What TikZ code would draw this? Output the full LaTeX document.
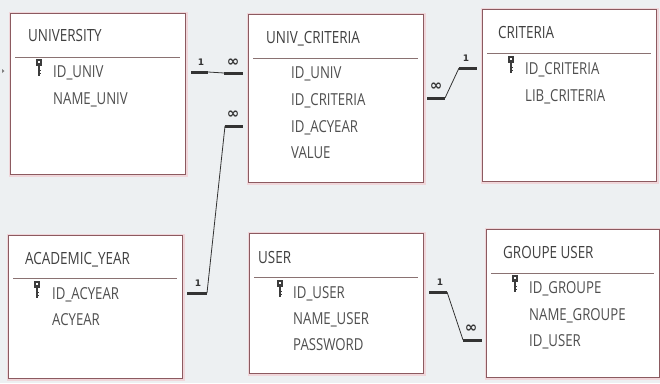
\documentclass[tikz,border=0pt]{standalone}
\usepackage{fontspec}
\setmainfont[FakeStretch=0.8]{Open Sans}
\newfontfamily\relfont{DejaVu Sans}
\usepackage{xcolor}
\usetikzlibrary{positioning,calc}

\definecolor{bgc}{HTML}{EDF0F2}
\definecolor{framec}{HTML}{8C5A60}
\definecolor{haloc}{HTML}{F0D6DA}
\definecolor{linec}{HTML}{8A7272}
\definecolor{textc}{HTML}{404040}
\definecolor{keyc}{HTML}{3C3C3C}
\definecolor{relc}{HTML}{333333}

\tikzset{
  tbl/.style={draw=framec, line width=1.1pt, fill=white, anchor=north west,
    inner sep=0pt, minimum width=175pt, preaction={draw=haloc, line width=4pt}},
  hdr/.style={draw=linec, line width=1pt},
  ttl/.style={anchor=base west, inner sep=0pt, text=textc,
    font=\fontsize{16.8}{18}\selectfont},
  fld/.style={anchor=base west, inner sep=0pt, text=textc!92,
    font=\fontsize{16.5}{17}\selectfont},
  bar/.style={draw=relc, line width=3pt},
  rel/.style={draw=relc, line width=0.8pt},
  one/.style={inner sep=0pt, text=relc, font=\relfont\bfseries\fontsize{9}{9}\selectfont},
  many/.style={inner sep=0pt, text=relc, font=\relfont\bfseries\fontsize{15}{15}\selectfont},
  pkey/.pic={
    \fill[keyc] (-2.6,-18) rectangle (2.6,-11.5);
    \fill[white] (-0.9,-16.3) rectangle (0.9,-14.5);
    \draw[keyc,line width=1.6pt] (0,-11.5) -- (0,-1);
    \draw[keyc,line width=0.9pt] (0,-4) -- (2.2,-4) (0,-7) -- (2.2,-7);
  }
}

\begin{document}
\begin{tikzpicture}[x=1pt,y=-1pt]
\fill[bgc] (0,0) rectangle (660,383);
\useasboundingbox (0,0) rectangle (660,383);
\fill[gray] (2,69) -- (4.5,71) -- (2,73) -- cycle;

% tables
\node[tbl, minimum height=161pt] (univ) at (10,13) {};
\node[tbl, minimum height=168pt] (ucrit) at (248,14) {};
\node[tbl, minimum width=174pt, minimum height=172pt] (crit) at (482,9) {};
\node[tbl, minimum width=174pt, minimum height=143pt] (acyear) at (8,235) {};
\node[tbl, minimum width=174pt, minimum height=140pt] (user) at (249,233) {};
\node[tbl, minimum width=173pt, minimum height=148pt] (groupe) at (486,229) {};

\draw[hdr] (15,57) -- (180,57);
\draw[hdr] (253,58) -- (418,58);
\draw[hdr] (487,53) -- (651,53);
\draw[hdr] (13,278) -- (177,278);
\draw[hdr] (254,277) -- (418,277);
\draw[hdr] (491,273) -- (654,273);

% UNIVERSITY
\node[ttl] (univt) at (28,41) {UNIVERSITY};
\pic at (39,77) {pkey};
\node[fld] (univa) at (53,77) {ID\_UNIV};
\node[fld] (univb) at (53,104) {NAME\_UNIV};

% UNIV_CRITERIA
\node[ttl] (ucritt) at (266,43) {UNIV\_CRITERIA};
\node[fld] (ucrita) at (291,78) {ID\_UNIV};
\node[fld] (ucritb) at (291,105) {ID\_CRITERIA};
\node[fld] (ucritc) at (291,132) {ID\_ACYEAR};
\node[fld] (ucritd) at (291,158) {VALUE};

% CRITERIA
\node[ttl] (critt) at (498,38) {CRITERIA};
\pic at (511,74) {pkey};
\node[fld] (crita) at (525,74) {ID\_CRITERIA};
\node[fld] (critb) at (525,101) {LIB\_CRITERIA};

% ACADEMIC_YEAR
\node[ttl] (acyeart) at (25,264) {ACADEMIC\_YEAR};
\pic at (37,299) {pkey};
\node[fld] (acyeara) at (52,299) {ID\_ACYEAR};
\node[fld] (acyearb) at (52,325) {ACYEAR};

% USER
\node[ttl] (usert) at (258,263) {USER};
\pic at (280,298) {pkey};
\node[fld] (usera) at (293,298) {ID\_USER};
\node[fld] (userb) at (293,324) {NAME\_USER};
\node[fld] (userc) at (293,350) {PASSWORD};

% GROUPE USER
\node[ttl] (groupet) at (503,258) {GROUPE USER};
\pic at (515,293) {pkey};
\node[fld] (groupea) at (529,293) {ID\_GROUPE};
\node[fld] (groupeb) at (529,320) {NAME\_GROUPE};
\node[fld] (groupec) at (529,346) {ID\_USER};

% relations
\coordinate (r1a) at (191,72);
\coordinate (r1b) at (208,72);
\coordinate (r1c) at (224,73);
\coordinate (r1d) at (243,73);
\draw[bar] (r1a) -- (r1b);
\draw[rel] (r1b) -- (r1c);
\draw[bar] (r1c) -- (r1d);
\node[one] (r1one) at (201,62) {1};
\node[many] (r1many) at (233,63) {∞};

\coordinate (r2a) at (187,293);
\coordinate (r2b) at (207,293);
\coordinate (r2c) at (225,126);
\coordinate (r2d) at (243,126);
\draw[bar] (r2a) -- (r2b);
\draw[rel] (r2b) -- (r2c);
\draw[bar] (r2c) -- (r2d);
\node[one] (r2one) at (198,283) {1};
\node[many] (r2many) at (233,115) {∞};

\coordinate (r3a) at (427,98);
\coordinate (r3b) at (445,98);
\coordinate (r3c) at (459,68);
\coordinate (r3d) at (477,68);
\draw[bar] (r3a) -- (r3b);
\draw[rel] (r3b) -- (r3c);
\draw[bar] (r3c) -- (r3d);
\node[many] (r3many) at (436,87) {∞};
\node[one] (r3one) at (466,58) {1};

\coordinate (r4a) at (429,292);
\coordinate (r4b) at (447,292);
\coordinate (r4c) at (463,340);
\coordinate (r4d) at (482,340);
\draw[bar] (r4a) -- (r4b);
\draw[rel] (r4b) -- (r4c);
\draw[bar] (r4c) -- (r4d);
\node[one] (r4one) at (440,282) {1};
\node[many] (r4many) at (471,329) {∞};
\end{tikzpicture}
\end{document}
